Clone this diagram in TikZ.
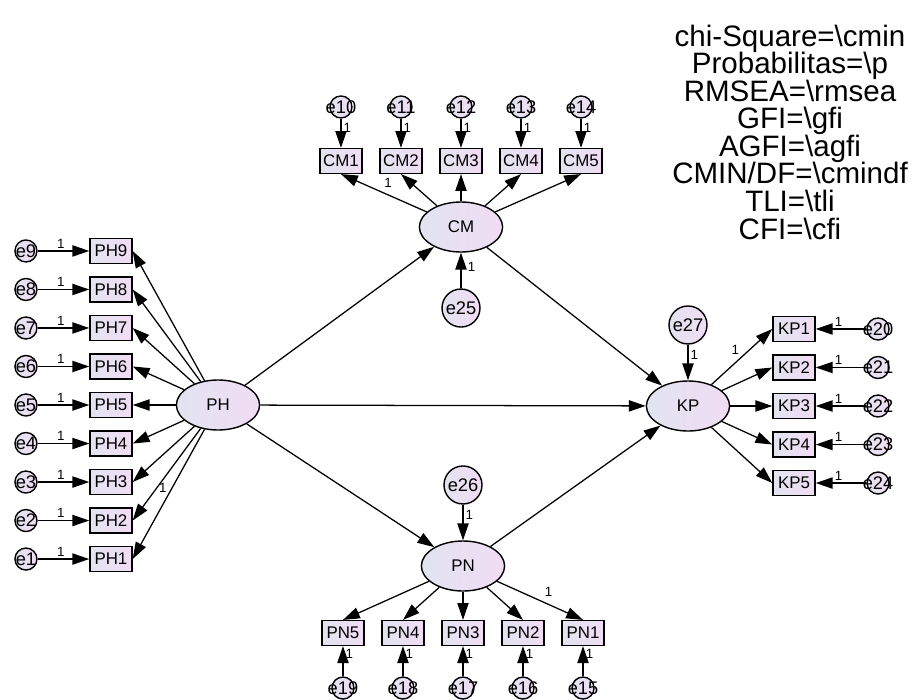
\documentclass[tikz,border=0pt]{standalone}
\usepackage{fontspec}
\setmainfont{Liberation Sans}
\usetikzlibrary{arrows.meta,shapes,positioning}
\definecolor{lvleft}{RGB}{226,228,240}
\definecolor{lvright}{RGB}{240,220,244}
\tikzstyle{latent} = [draw, line width=1pt, ellipse, left color=lvleft, right color=lvright,
	minimum width=2.08cm, minimum height=1.25cm, inner sep=0pt, font=\fontsize{12}{14}\selectfont]
\tikzstyle{ind} = [draw, line width=1pt, rectangle, left color=lvleft, right color=lvright,
	minimum width=1.05cm, minimum height=0.62cm, inner sep=0pt, font=\fontsize{12}{14}\selectfont]
\tikzstyle{err} = [draw, line width=1pt, circle, left color=lvleft, right color=lvright,
	minimum size=0.55cm, inner sep=0pt, font=\fontsize{13}{15}\selectfont]
\tikzstyle{dist} = [draw, line width=1pt, circle, left color=lvleft, right color=lvright,
	minimum size=0.95cm, inner sep=0pt, font=\fontsize{13}{15}\selectfont]
\tikzstyle{one} = [font=\fontsize{9.5}{11}\selectfont, inner sep=1.5pt]
\newcommand{\enm}[1]{\makebox[0pt]{e#1}}

\begin{document}
\begin{tikzpicture}[x=0.025cm, y=-0.025cm, >={Triangle[length=12pt,width=8pt]},
	every path/.style={line width=0.9pt}, node distance=0.9625cm]
	\useasboundingbox (0,0) rectangle (916,699);
	% latent variables
	\node [latent] (PH) at (218,405) {PH};
	\node [latent] (CM) at (461,227) {CM};
	\node [latent] (KP) at (688,406) {KP};
	\node [latent] (PN) at (463,566) {PN};
	\node [dist, below of=CM, node distance=2.025cm] (e25) {e25};
	\node [dist, above of=PN, node distance=2.025cm] (e26) {e26};
	\node [dist, above of=KP, node distance=2.025cm] (e27) {e27};

	% PH indicators
	\node [ind, left of=PH, node distance=2.675cm] (PH5) {PH5};
	\node [ind, above of=PH5] (PH6) {PH6};
	\node [ind, above of=PH6] (PH7) {PH7};
	\node [ind, above of=PH7] (PH8) {PH8};
	\node [ind, above of=PH8] (PH9) {PH9};
	\node [ind, below of=PH5] (PH4) {PH4};
	\node [ind, below of=PH4] (PH3) {PH3};
	\node [ind, below of=PH3] (PH2) {PH2};
	\node [ind, below of=PH2] (PH1) {PH1};
	\node [err, left of=PH9, node distance=2.125cm] (e9) {\enm{9}};
	\node [err, left of=PH8, node distance=2.125cm] (e8) {\enm{8}};
	\node [err, left of=PH7, node distance=2.125cm] (e7) {\enm{7}};
	\node [err, left of=PH6, node distance=2.125cm] (e6) {\enm{6}};
	\node [err, left of=PH5, node distance=2.125cm] (e5) {\enm{5}};
	\node [err, left of=PH4, node distance=2.125cm] (e4) {\enm{4}};
	\node [err, left of=PH3, node distance=2.125cm] (e3) {\enm{3}};
	\node [err, left of=PH2, node distance=2.125cm] (e2) {\enm{2}};
	\node [err, left of=PH1, node distance=2.125cm] (e1) {\enm{1}};

	% CM indicators
	\node [ind, above of=CM, node distance=1.65cm] (CM3) {CM3};
	\node [ind, left of=CM3, node distance=1.5cm] (CM2) {CM2};
	\node [ind, left of=CM2, node distance=1.5cm] (CM1) {CM1};
	\node [ind, right of=CM3, node distance=1.5cm] (CM4) {CM4};
	\node [ind, right of=CM4, node distance=1.5cm] (CM5) {CM5};
	\node [err, above of=CM1, node distance=1.35cm] (e10) {\enm{10}};
	\node [err, above of=CM2, node distance=1.35cm] (e11) {\enm{11}};
	\node [err, above of=CM3, node distance=1.35cm] (e12) {\enm{12}};
	\node [err, above of=CM4, node distance=1.35cm] (e13) {\enm{13}};
	\node [err, above of=CM5, node distance=1.35cm] (e14) {\enm{14}};

	% KP indicators
	\node [ind, right of=KP, node distance=2.65cm] (KP3) {KP3};
	\node [ind, above of=KP3] (KP2) {KP2};
	\node [ind, above of=KP2] (KP1) {KP1};
	\node [ind, below of=KP3] (KP4) {KP4};
	\node [ind, below of=KP4] (KP5) {KP5};
	\node [err, right of=KP1, node distance=2.1cm] (e20) {\enm{20}};
	\node [err, right of=KP2, node distance=2.1cm] (e21) {\enm{21}};
	\node [err, right of=KP3, node distance=2.1cm] (e22) {\enm{22}};
	\node [err, right of=KP4, node distance=2.1cm] (e23) {\enm{23}};
	\node [err, right of=KP5, node distance=2.1cm] (e24) {\enm{24}};

	% PN indicators
	\node [ind, below of=PN, node distance=1.675cm] (PN3) {PN3};
	\node [ind, left of=PN3, node distance=1.5cm] (PN4) {PN4};
	\node [ind, left of=PN4, node distance=1.5cm] (PN5) {PN5};
	\node [ind, right of=PN3, node distance=1.5cm] (PN2) {PN2};
	\node [ind, right of=PN2, node distance=1.5cm] (PN1) {PN1};
	\node [err, below of=PN5, node distance=1.375cm] (e19) {\enm{19}};
	\node [err, below of=PN4, node distance=1.375cm] (e18) {\enm{18}};
	\node [err, below of=PN3, node distance=1.375cm] (e17) {\enm{17}};
	\node [err, below of=PN2, node distance=1.375cm] (e16) {\enm{16}};
	\node [err, below of=PN1, node distance=1.375cm] (e15) {\enm{15}};

	% fit indices
	\node [align=center, font=\fontsize{21}{19.6}\selectfont] (fitstats) at (790,132)
		{chi-Square=\textbackslash cmin\\Probabilitas=\textbackslash p\\RMSEA=\textbackslash rmsea\\
		GFI=\textbackslash gfi\\AGFI=\textbackslash agfi\\CMIN/DF=\textbackslash cmindf\\
		TLI=\textbackslash tli\\CFI=\textbackslash cfi};

	% structural paths
	\draw[->] (PH) -- (CM);
	\draw[->] (PH) -- (KP);
	\draw[->] (PH) -- (PN);
	\draw[->] (CM) -- (KP);
	\draw[->] (PN) -- (KP);
	\draw[->] (e25) -- node[one, pos=0.6, right=3pt]{1} (CM);
	\draw[->] (e26) -- node[one, pos=0.3, right]{1} (PN);
	\draw[->] (e27) -- node[one, pos=0.3, right]{1} (KP);

	% loadings
	\draw[->] (PH) -- (PH9.east);
	\draw[->] (PH) -- (PH8.east);
	\draw[->] (PH) -- (PH7.east);
	\draw[->] (PH) -- (PH6.east);
	\draw[->] (PH) -- (PH5.east);
	\draw[->] (PH) -- (PH4.east);
	\draw[->] (PH) -- (PH3.east);
	\draw[->] (PH) -- node[one, pos=0.65, right=0pt]{1} (PH2.east);
	\draw[->] (PH) -- (PH1.east);
	\draw[->] (CM) -- node[one, pos=0.45, above=3pt]{1} (CM1.south);
	\draw[->] (CM) -- (CM2.south);
	\draw[->] (CM) -- (CM3.south);
	\draw[->] (CM) -- (CM4.south);
	\draw[->] (CM) -- (CM5.south);
	\draw[->] (KP) -- node[one, pos=0.5, above left]{1} (KP1.west);
	\draw[->] (KP) -- (KP2.west);
	\draw[->] (KP) -- (KP3.west);
	\draw[->] (KP) -- (KP4.west);
	\draw[->] (KP) -- (KP5.west);
	\draw[->] (PN) -- (PN5.north);
	\draw[->] (PN) -- (PN4.north);
	\draw[->] (PN) -- (PN3.north);
	\draw[->] (PN) -- (PN2.north);
	\draw[->] (PN) -- node[one, pos=0.6, above=4pt]{1} (PN1.north);

	% measurement errors
	\draw[->] (e9) -- node[one, pos=0.45, above]{1} (PH9);
	\draw[->] (e8) -- node[one, pos=0.45, above]{1} (PH8);
	\draw[->] (e7) -- node[one, pos=0.45, above]{1} (PH7);
	\draw[->] (e6) -- node[one, pos=0.45, above]{1} (PH6);
	\draw[->] (e5) -- node[one, pos=0.45, above]{1} (PH5);
	\draw[->] (e4) -- node[one, pos=0.45, above]{1} (PH4);
	\draw[->] (e3) -- node[one, pos=0.45, above]{1} (PH3);
	\draw[->] (e2) -- node[one, pos=0.45, above]{1} (PH2);
	\draw[->] (e1) -- node[one, pos=0.45, above]{1} (PH1);
	\draw[->] (e10) -- node[one, pos=0.3, right]{1} (CM1);
	\draw[->] (e11) -- node[one, pos=0.3, right]{1} (CM2);
	\draw[->] (e12) -- node[one, pos=0.3, right]{1} (CM3);
	\draw[->] (e13) -- node[one, pos=0.3, right]{1} (CM4);
	\draw[->] (e14) -- node[one, pos=0.3, right]{1} (CM5);
	\draw[->] (e20) -- node[one, pos=0.55, above]{1} (KP1);
	\draw[->] (e21) -- node[one, pos=0.55, above]{1} (KP2);
	\draw[->] (e22) -- node[one, pos=0.55, above]{1} (KP3);
	\draw[->] (e23) -- node[one, pos=0.55, above]{1} (KP4);
	\draw[->] (e24) -- node[one, pos=0.55, above]{1} (KP5);
	\draw[->] (e19) -- node[one, pos=0.75, right]{1} (PN5);
	\draw[->] (e18) -- node[one, pos=0.75, right]{1} (PN4);
	\draw[->] (e17) -- node[one, pos=0.75, right]{1} (PN3);
	\draw[->] (e16) -- node[one, pos=0.75, right]{1} (PN2);
	\draw[->] (e15) -- node[one, pos=0.75, right]{1} (PN1);

\end{tikzpicture}
\end{document}
